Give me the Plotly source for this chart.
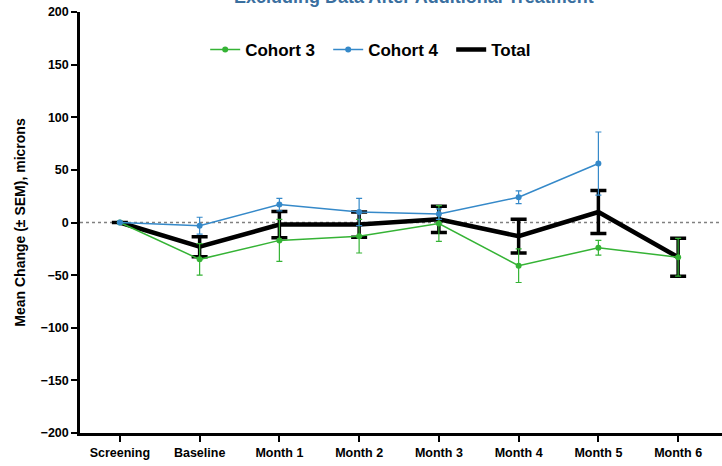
import plotly.graph_objects as go

# Visits on the x axis
visits = ["Screening", "Baseline", "Month 1", "Month 2", "Month 3",
          "Month 4", "Month 5", "Month 6"]

# Mean change from screening (microns) and SEM per group
cohort3_mean = [0, -35, -17, -13, -1, -41, -24, -33]
cohort3_sem = [0, 15, 20, 16, 17, 16, 7, 18]

cohort4_mean = [0, -3, 17, 10, 8, 24, 56, None]
cohort4_sem = [0, 8, 6, 13, 5, 6, 30, None]

total_mean = [0, -23, -2, -2, 3, -13, 10, -33]
total_sem = [0, 9.5, 12.5, 12, 12.4, 16, 20.5, 18]

y_ticks = [-200, -150, -100, -50, 0, 50, 100, 150, 200]

GREEN = "#35b335"
BLUE = "#3589c9"
BLACK = "#000000"
FONT = "Liberation Sans"

fig = go.Figure()

fig.add_trace(go.Scatter(
    x=visits, y=total_mean, name="Total", mode="lines",
    line=dict(color=BLACK, width=4.5),
    error_y=dict(type="data", array=total_sem, visible=True,
                 color=BLACK, thickness=3.5, width=8),
    legendrank=3,
))

fig.add_trace(go.Scatter(
    x=visits, y=cohort3_mean, name="Cohort 3", mode="lines+markers",
    line=dict(color=GREEN, width=1.5),
    marker=dict(color=GREEN, size=6),
    error_y=dict(type="data", array=cohort3_sem, visible=True,
                 color=GREEN, thickness=1.2, width=3),
    legendrank=1,
))

fig.add_trace(go.Scatter(
    x=visits, y=cohort4_mean, name="Cohort 4", mode="lines+markers",
    line=dict(color=BLUE, width=1.5),
    marker=dict(color=BLUE, size=6),
    error_y=dict(type="data", array=cohort4_sem, visible=True,
                 color=BLUE, thickness=1.2, width=3),
    legendrank=2,
))

# Dotted reference line at zero change
fig.add_shape(type="line", xref="paper", yref="y", x0=0, x1=1, y0=0, y1=0,
              line=dict(color="#808080", width=1.5, dash="dot"), layer="below")

# Chart title (sits at the very top edge)
fig.add_annotation(
    text="<b>Excluding Data After Additional Treatment</b>",
    xref="paper", yref="paper", x=0.52, y=1.035, xanchor="center",
    yanchor="middle", showarrow=False,
    font=dict(family=FONT, size=18, color="#3a6f9f"),
)

fig.update_layout(
    width=722, height=466,
    margin=dict(l=80, r=0, t=12, b=33),
    paper_bgcolor="white", plot_bgcolor="white",
    font=dict(family=FONT, color="black"),
    showlegend=True,
    legend=dict(
        orientation="h", x=0.195, y=0.91, xanchor="left", yanchor="middle",
        font=dict(family=FONT, size=17, color="black", weight="bold"),
        bgcolor="rgba(0,0,0,0)", itemwidth=30,
        entrywidth=78, entrywidthmode="pixels",
    ),
)

fig.update_xaxes(
    type="category", range=[-0.5, 7.55],
    showline=True, linecolor="black", linewidth=2.5,
    ticks="outside", ticklen=6, tickwidth=2, tickcolor="black",
    showgrid=False, zeroline=False,
    tickfont=dict(family=FONT, size=12.5, weight="bold"),
)

fig.update_yaxes(
    range=[-200, 200], tickvals=y_ticks,
    showline=True, linecolor="black", linewidth=2.5,
    ticks="outside", ticklen=6, tickwidth=2, tickcolor="black",
    showgrid=False, zeroline=False,
    tickfont=dict(family=FONT, size=12.5, weight="bold"),
    title=dict(text="Mean Change (± SEM), microns", standoff=12,
               font=dict(family=FONT, size=14, weight="bold")),
)

fig.write_html("out.html")
